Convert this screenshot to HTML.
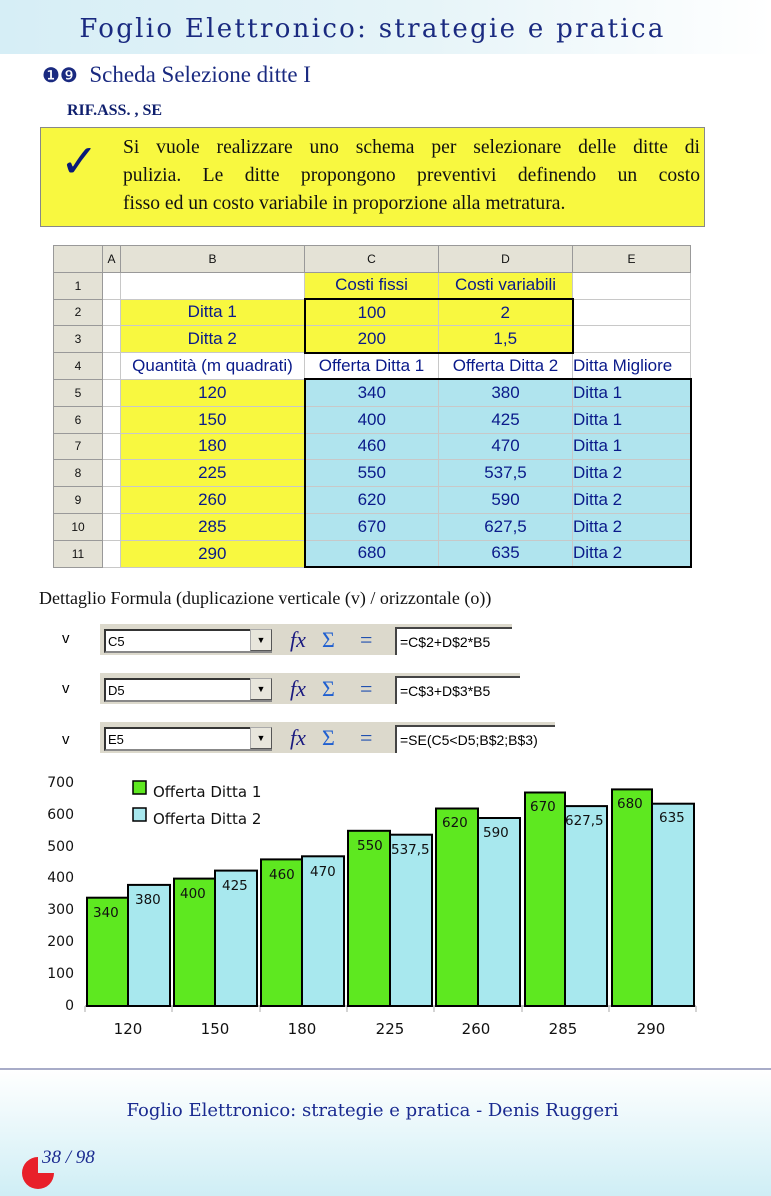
<!DOCTYPE html>
<html><head><meta charset="utf-8"><style>
*{margin:0;padding:0;box-sizing:border-box}
body{width:771px;height:1196px;position:relative;background:#fff;overflow:hidden;font-family:"Liberation Serif",serif}
.abs{position:absolute}
#top{left:0;top:0;width:771px;height:54px;background:linear-gradient(90deg,#d6eef6 0%,#e6f4f8 55%,#fff 100%)}
#title{left:0;top:14px;width:745px;text-align:center;font-size:26px;letter-spacing:2.3px;color:#1a2a80;font-family:"DejaVu Serif","Liberation Serif",serif}
#h2{left:42px;top:62px;font-size:23px;color:#1a2a80}
#rif{left:67px;top:102px;font-size:16px;font-weight:bold;color:#0f1f6e}
#box{left:40px;top:127px;width:665px;height:100px;background:#f8f840;border:1px solid #888}
#chk{left:60px;top:134px;font-size:46px;color:#0a1a78;font-family:"DejaVu Sans",sans-serif}
#txt{left:123px;top:134px;width:577px;font-size:19.6px;line-height:28px;color:#111}
#txt div{text-align:justify;text-align-last:justify;height:28px}
#txt div.l{text-align-last:left}
table{border-collapse:collapse;table-layout:fixed;position:absolute;left:53px;top:245px;font-family:"Liberation Sans",sans-serif;font-size:17px;color:#0a1a8a}
td{border:1px solid #c8c8c8;height:26.8px;line-height:24px;text-align:center;padding:0;white-space:nowrap;overflow:hidden}
td.h{background:#e4e2d6;color:#111;font-size:12px;border-color:#999}
.y{background:#f8f840}.b{background:#b0e4ee}
.f{left:100px;width:420px;height:33px;background:#dcd9cc;border-top:2px solid #fff}
.nb{position:absolute;left:4px;top:5px;width:168px;height:24px;background:#fff;border:2px inset #888;font:13px "Liberation Sans",sans-serif;padding:3px 2px}
.dd{position:absolute;left:150px;top:5px;width:22px;height:22px;background:#e8e6dc;border:1px outset #aaa;font-size:9px;text-align:center;line-height:20px}
.ic{position:absolute;top:3px;font-size:22px}
.fb{position:absolute;left:295px;top:3px;height:28px;background:#fff;border-left:2px solid #444;border-top:2px solid #444;font:14px "Liberation Sans",sans-serif;padding:5px 3px}
.v{left:62px;font:15px "Liberation Sans",sans-serif}
#foot{left:0;top:1068px;width:771px;height:128px;background:linear-gradient(180deg,#fff 0%,#cfeef5 100%);border-top:2px solid #a8acc8}
</style></head><body>
<div id="top" class="abs"></div>
<div id="title" class="abs">Foglio Elettronico: strategie e pratica</div>
<div id="h2" class="abs"><span style="font-family:'DejaVu Sans',sans-serif;font-size:20px">❶❾</span>&nbsp; Scheda Selezione ditte I</div>
<div id="rif" class="abs">RIF.ASS. , SE</div>
<div id="box" class="abs"></div>
<div id="chk" class="abs">✓</div>
<div id="txt" class="abs"><div>Si vuole realizzare uno schema per selezionare delle ditte di</div><div>pulizia. Le ditte propongono preventivi definendo un costo</div><div class="l">fisso ed un costo variabile in proporzione alla metratura.</div></div>

<table>
<tr><td class="h" style="width:49px;height:22px;line-height:18px"></td><td class="h" style="width:18px">A</td><td class="h" style="width:184px">B</td><td class="h" style="width:134px">C</td><td class="h" style="width:134px">D</td><td class="h" style="width:118px">E</td></tr>
<tr><td class="h">1</td><td></td><td></td><td class="y">Costi fissi</td><td class="y">Costi variabili</td><td></td></tr>
<tr><td class="h">2</td><td></td><td class="y">Ditta 1</td><td class="y" style="border-top:2px solid #000;border-left:2px solid #000">100</td><td class="y" style="border-top:2px solid #000;border-right:2px solid #000">2</td><td></td></tr>
<tr><td class="h">3</td><td></td><td class="y">Ditta 2</td><td class="y" style="border-bottom:2px solid #000;border-left:2px solid #000">200</td><td class="y" style="border-bottom:2px solid #000;border-right:2px solid #000">1,5</td><td></td></tr>
<tr><td class="h">4</td><td></td><td>Quantità (m quadrati)</td><td>Offerta Ditta 1</td><td>Offerta Ditta 2</td><td style="text-align:left">Ditta Migliore</td></tr>
<tr><td class="h">5</td><td></td><td class="y">120</td><td class="b" style="border-left:2px solid #000;border-top:2px solid #000">340</td><td class="b" style="border-top:2px solid #000">380</td><td class="b" style="text-align:left;border-top:2px solid #000;border-right:2px solid #000">Ditta 1</td></tr>
<tr><td class="h">6</td><td></td><td class="y">150</td><td class="b" style="border-left:2px solid #000">400</td><td class="b">425</td><td class="b" style="text-align:left;border-right:2px solid #000">Ditta 1</td></tr>
<tr><td class="h">7</td><td></td><td class="y">180</td><td class="b" style="border-left:2px solid #000">460</td><td class="b">470</td><td class="b" style="text-align:left;border-right:2px solid #000">Ditta 1</td></tr>
<tr><td class="h">8</td><td></td><td class="y">225</td><td class="b" style="border-left:2px solid #000">550</td><td class="b">537,5</td><td class="b" style="text-align:left;border-right:2px solid #000">Ditta 2</td></tr>
<tr><td class="h">9</td><td></td><td class="y">260</td><td class="b" style="border-left:2px solid #000">620</td><td class="b">590</td><td class="b" style="text-align:left;border-right:2px solid #000">Ditta 2</td></tr>
<tr><td class="h">10</td><td></td><td class="y">285</td><td class="b" style="border-left:2px solid #000">670</td><td class="b">627,5</td><td class="b" style="text-align:left;border-right:2px solid #000">Ditta 2</td></tr>
<tr><td class="h">11</td><td></td><td class="y">290</td><td class="b" style="border-left:2px solid #000;border-bottom:2px solid #000">680</td><td class="b" style="border-bottom:2px solid #000">635</td><td class="b" style="text-align:left;border-right:2px solid #000;border-bottom:2px solid #000">Ditta 2</td></tr>
</table>

<div class="abs" style="left:39px;top:588px;font-size:18px;color:#111">Dettaglio Formula (duplicazione verticale (v) / orizzontale (o))</div>

<div class="abs v" style="top:630px">v</div>
<div class="abs f" style="top:622px;width:412px"><div class="nb">C5</div><div class="dd">▼</div><span class="ic" style="left:190px;color:#1a1a80;font-style:italic;font-family:'Liberation Serif',serif">fx</span><span class="ic" style="left:222px;color:#2060d0">Σ</span><span class="ic" style="left:260px;color:#2050b0">=</span><div class="fb" style="width:117px">=C$2+D$2*B5</div></div>
<div class="abs v" style="top:680px">v</div>
<div class="abs f" style="top:671px;width:420px"><div class="nb">D5</div><div class="dd">▼</div><span class="ic" style="left:190px;color:#1a1a80;font-style:italic;font-family:'Liberation Serif',serif">fx</span><span class="ic" style="left:222px;color:#2060d0">Σ</span><span class="ic" style="left:260px;color:#2050b0">=</span><div class="fb" style="width:125px">=C$3+D$3*B5</div></div>
<div class="abs v" style="top:731px">v</div>
<div class="abs f" style="top:720px;width:455px"><div class="nb">E5</div><div class="dd">▼</div><span class="ic" style="left:190px;color:#1a1a80;font-style:italic;font-family:'Liberation Serif',serif">fx</span><span class="ic" style="left:222px;color:#2060d0">Σ</span><span class="ic" style="left:260px;color:#2050b0">=</span><div class="fb" style="width:160px">=SE(C5&lt;D5;B$2;B$3)</div></div>

<svg class="abs" style="left:0;top:0" width="771" height="1196" font-family="DejaVu Sans, Liberation Sans, sans-serif" font-size="14">
<g text-anchor="end" fill="#111">
<text x="74" y="787">700</text><text x="74" y="819">600</text><text x="74" y="851">500</text><text x="74" y="882">400</text><text x="74" y="914">300</text><text x="74" y="946">200</text><text x="74" y="978">100</text><text x="74" y="1010">0</text>
</g>
<line x1="85" y1="1006" x2="696" y2="1006" stroke="#888"/>
<g stroke="#aaa"><line x1="85" y1="1006" x2="85" y2="1012"/><line x1="172" y1="1006" x2="172" y2="1012"/><line x1="260" y1="1006" x2="260" y2="1012"/><line x1="347" y1="1006" x2="347" y2="1012"/><line x1="434" y1="1006" x2="434" y2="1012"/><line x1="522" y1="1006" x2="522" y2="1012"/><line x1="609" y1="1006" x2="609" y2="1012"/><line x1="696" y1="1006" x2="696" y2="1012"/></g>
<g text-anchor="middle" font-size="15" fill="#111">
<text x="128" y="1034">120</text><text x="215" y="1034">150</text><text x="302" y="1034">180</text><text x="390" y="1034">225</text><text x="476" y="1034">260</text><text x="563" y="1034">285</text><text x="651" y="1034">290</text>
</g>
<g stroke="#000" stroke-width="2">
<rect x="87" y="897.7" width="41" height="108.3" fill="#5ee820"/><rect x="128" y="884.9" width="42" height="121.1" fill="#a8e8ee"/>
<rect x="174" y="878.6" width="41" height="127.4" fill="#5ee820"/><rect x="215" y="870.6" width="42" height="135.4" fill="#a8e8ee"/>
<rect x="261" y="859.4" width="41" height="146.6" fill="#5ee820"/><rect x="302" y="856.3" width="42" height="149.7" fill="#a8e8ee"/>
<rect x="348" y="830.8" width="42" height="175.2" fill="#5ee820"/><rect x="390" y="834.7" width="42" height="171.3" fill="#a8e8ee"/>
<rect x="436" y="808.5" width="42" height="197.5" fill="#5ee820"/><rect x="478" y="818" width="42" height="188" fill="#a8e8ee"/>
<rect x="525" y="792.5" width="40" height="213.5" fill="#5ee820"/><rect x="565" y="806.1" width="42" height="199.9" fill="#a8e8ee"/>
<rect x="612" y="789.4" width="40" height="216.6" fill="#5ee820"/><rect x="652" y="803.7" width="42" height="202.3" fill="#a8e8ee"/>
</g>
<g font-size="13.5" fill="#111">
<text x="93" y="917">340</text><text x="135" y="904">380</text>
<text x="180" y="898">400</text><text x="222" y="890">425</text>
<text x="269" y="879">460</text><text x="310" y="876">470</text>
<text x="357" y="850">550</text><text x="391" y="854">537,5</text>
<text x="442" y="827">620</text><text x="483" y="837">590</text>
<text x="530" y="811">670</text><text x="565" y="825">627,5</text>
<text x="617" y="808">680</text><text x="659" y="822">635</text>
</g>
<rect x="133" y="781" width="13" height="13" fill="#5ee820" stroke="#000" stroke-width="1.5"/>
<rect x="133" y="808" width="13" height="13" fill="#a8e8ee" stroke="#000" stroke-width="1.5"/>
<text x="153" y="797" font-size="15" fill="#111">Offerta Ditta 1</text>
<text x="153" y="824" font-size="15" fill="#111">Offerta Ditta 2</text>
</svg>

<div id="foot" class="abs"></div>
<div class="abs" style="left:0;top:1100px;width:745px;text-align:center;color:#1a2a90;font-family:'DejaVu Serif','Liberation Serif',serif;font-size:18px">Foglio Elettronico: strategie e pratica - Denis Ruggeri</div>
<svg class="abs" style="left:20px;top:1155px" width="36" height="36"><path d="M18 18 L18 2 A16 16 0 1 0 34 18 Z" fill="#e8202a"/></svg>
<div class="abs" style="left:42px;top:1147px;font-size:19px;font-style:italic;color:#1a2a90">38 / 98</div>
</body></html>
